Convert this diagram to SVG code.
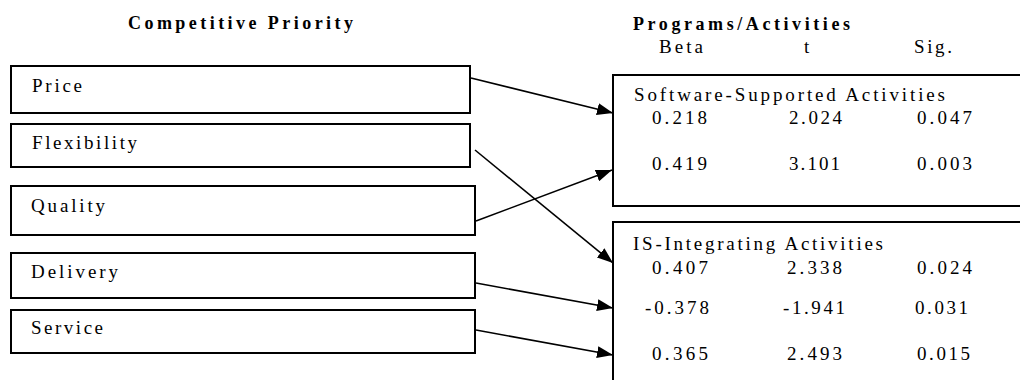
<svg xmlns="http://www.w3.org/2000/svg" width="1020" height="380" viewBox="0 0 1020 380">
<defs>
<style>
.box{fill:#fff;stroke:#000;stroke-width:2}
.t{font-family:"Liberation Serif","Times New Roman",serif;font-size:19px;fill:#000}
.h{font-family:"Liberation Serif","Times New Roman",serif;font-size:18px;font-weight:bold;fill:#000}
.c{fill:none;stroke:#000;stroke-width:1.6}
</style>
<marker id="ah" viewBox="0 0 16 12" refX="16" refY="6" markerWidth="16" markerHeight="12" markerUnits="userSpaceOnUse" orient="auto">
<path d="M0,0 L16,6 L0,12 z" fill="#000"/>
</marker>
</defs>
<rect width="1020" height="380" fill="#fff"/>
<text class="h" x="128" y="29" textLength="225" lengthAdjust="spacing">Competitive Priority</text>
<text class="h" x="633" y="30" textLength="217" lengthAdjust="spacing">Programs/Activities</text>
<text class="t" x="659" y="53" textLength="44" lengthAdjust="spacing">Beta</text>
<text class="t" x="804" y="53">t</text>
<text class="t" x="914" y="53" textLength="38" lengthAdjust="spacing">Sig.</text>
<g id="price"><rect class="box" x="11" y="66" width="459" height="47"/><text class="t" x="32" y="92" textLength="50" lengthAdjust="spacing">Price</text></g>
<g id="flexibility"><rect class="box" x="11" y="124" width="459" height="43"/><text class="t" x="32" y="149" textLength="105" lengthAdjust="spacing">Flexibility</text></g>
<g id="quality"><rect class="box" x="11" y="186" width="464" height="49"/><text class="t" x="31" y="212" textLength="74" lengthAdjust="spacing">Quality</text></g>
<g id="delivery"><rect class="box" x="11" y="253" width="464" height="45"/><text class="t" x="31" y="278" textLength="87" lengthAdjust="spacing">Delivery</text></g>
<g id="service"><rect class="box" x="11" y="310" width="464" height="43"/><text class="t" x="31" y="334" textLength="72" lengthAdjust="spacing">Service</text></g>
<g id="software">
<rect class="box" x="613" y="75" width="420" height="131"/>
<text class="t" x="634" y="101" textLength="311" lengthAdjust="spacing">Software-Supported Activities</text>
<text class="t" x="652" y="124" textLength="55" lengthAdjust="spacing">0.218</text>
<text class="t" x="789" y="124" textLength="53" lengthAdjust="spacing">2.024</text>
<text class="t" x="917" y="124" textLength="55" lengthAdjust="spacing">0.047</text>
<text class="t" x="652" y="170" textLength="55" lengthAdjust="spacing">0.419</text>
<text class="t" x="789" y="170" textLength="51" lengthAdjust="spacing">3.101</text>
<text class="t" x="917" y="170" textLength="55" lengthAdjust="spacing">0.003</text>
</g>
<g id="is-integrating">
<rect class="box" x="613" y="222" width="420" height="170"/>
<text class="t" x="633" y="250" textLength="250" lengthAdjust="spacing">IS-Integrating Activities</text>
<text class="t" x="652" y="274" textLength="56" lengthAdjust="spacing">0.407</text>
<text class="t" x="787" y="274" textLength="55" lengthAdjust="spacing">2.338</text>
<text class="t" x="917" y="274" textLength="55" lengthAdjust="spacing">0.024</text>
<text class="t" x="645" y="314" textLength="64" lengthAdjust="spacing">-0.378</text>
<text class="t" x="783" y="314" textLength="62" lengthAdjust="spacing">-1.941</text>
<text class="t" x="915" y="314" textLength="53" lengthAdjust="spacing">0.031</text>
<text class="t" x="652" y="360" textLength="56" lengthAdjust="spacing">0.365</text>
<text class="t" x="787" y="360" textLength="55" lengthAdjust="spacing">2.493</text>
<text class="t" x="917" y="360" textLength="53" lengthAdjust="spacing">0.015</text>
</g>
<g id="connectors">
<line class="c" x1="471" y1="78" x2="613" y2="113" marker-end="url(#ah)"/>
<line class="c" x1="475" y1="150" x2="613" y2="263" marker-end="url(#ah)"/>
<line class="c" x1="476" y1="221" x2="612" y2="170" marker-end="url(#ah)"/>
<line class="c" x1="476" y1="283" x2="613" y2="308" marker-end="url(#ah)"/>
<line class="c" x1="476" y1="330" x2="613" y2="355" marker-end="url(#ah)"/>
</g>
</svg>
